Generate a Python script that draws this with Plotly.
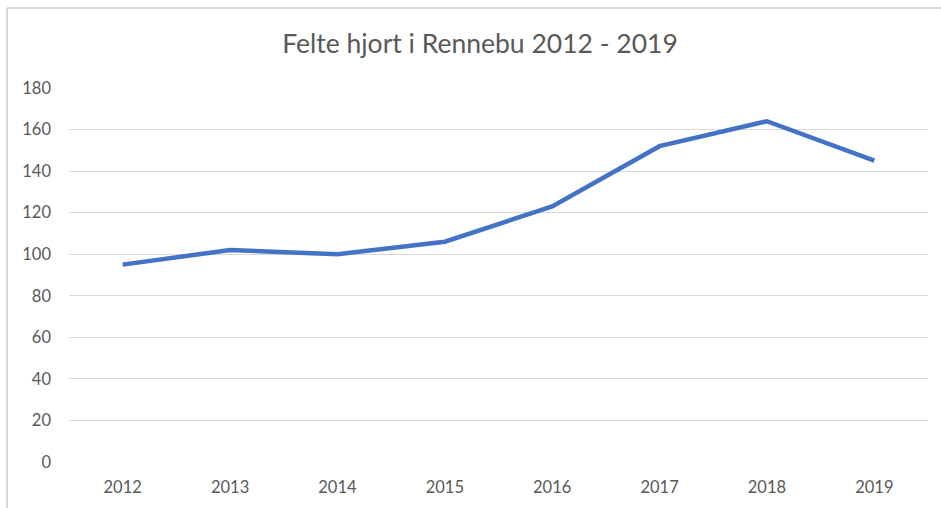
import plotly.graph_objects as go

years = ["2012", "2013", "2014", "2015", "2016", "2017", "2018", "2019"]
felte = [95, 102, 100, 106, 123, 152, 164, 145]
y_ticks = [0, 20, 40, 60, 80, 100, 120, 140, 160, 180]

W, H = 941, 508
L, R, T, B = 69, 13, 88, 46
PW, PH = W - L - R, H - T - B

fig = go.Figure()
fig.add_trace(go.Scatter(
    x=years, y=felte, mode="lines",
    line=dict(color="#4472C4", width=4.5),
    hoverinfo="x+y", showlegend=False,
))

font_family = "Lato, 'Open Sans', sans-serif"
fig.update_layout(
    width=W, height=H,
    margin=dict(l=L, r=R, t=T, b=B),
    paper_bgcolor="white", plot_bgcolor="white",
    title=dict(
        text="Felte hjort i Rennebu 2012 - 2019",
        x=480 / W, xref="container", xanchor="center",
        y=1 - 44 / H, yref="container", yanchor="middle",
        font=dict(family=font_family, size=26.5, color="#595959"),
    ),
    xaxis=dict(
        type="category", range=[-0.5, 7.5],
        showgrid=False, showline=False, zeroline=False,
        ticks="", tickfont=dict(family=font_family, size=16.5, color="#595959"),
        ticklabelstandoff=13,
    ),
    yaxis=dict(
        range=[0, 180], tickvals=y_ticks,
        showgrid=True, gridcolor="#D9D9D9", gridwidth=1.3,
        zeroline=False, showline=False, ticks="",
        tickfont=dict(family=font_family, size=16.5, color="#595959"),
        ticklabelstandoff=17,
    ),
    shapes=[
        dict(type="line", xref="paper", yref="paper",
             x0=-(L - 7) / PW, x1=1 + (R + 5) / PW,
             y0=1 + (T - 8) / PH, y1=1 + (T - 8) / PH,
             line=dict(color="#D9D9D9", width=2)),
        dict(type="line", xref="paper", yref="paper",
             x0=-(L - 7) / PW, x1=-(L - 7) / PW,
             y0=1 + (T - 8) / PH, y1=-(B + 5) / PH,
             line=dict(color="#D9D9D9", width=2)),
    ],
)

fig.write_html(
    "out.html",
    config={"displayModeBar": False},
    post_script="document.body.style.margin='0';document.body.style.overflow='hidden';",
)
